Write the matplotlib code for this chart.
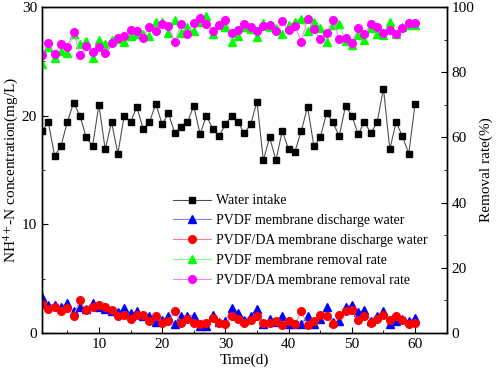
import matplotlib
matplotlib.use("Agg")
import matplotlib.pyplot as plt
from matplotlib.ticker import MultipleLocator

plt.rcParams['font.family'] = ['Liberation Serif', 'DejaVu Serif']
plt.rcParams['mathtext.fontset'] = 'stix'

days = list(range(1, 61))

water_intake = [18.6, 19.4, 16.3, 17.2, 19.4, 21.2, 20.0, 18.0, 17.2, 21.0,
                16.9, 19.4, 16.5, 20.0, 19.4, 20.8, 18.8, 19.4, 21.1, 19.2,
                20.2, 18.4, 19.0, 19.4, 20.9, 18.3, 20.0, 18.8, 18.1, 19.2,
                20.0, 19.4, 18.4, 19.2, 21.3, 15.9, 18.0, 15.9, 18.6, 16.9,
                16.7, 18.6, 20.8, 17.2, 18.0, 20.2, 19.4, 18.1, 20.9, 20.0,
                18.3, 19.4, 18.4, 19.4, 22.5, 16.9, 19.4, 18.1, 16.5, 21.1]

pvdf_out = [3.3, 2.6, 2.6, 2.4, 2.8, 2.0, 2.4, 2.2, 2.8, 2.4,
            2.2, 2.0, 1.9, 2.3, 1.8, 2.0, 1.6, 1.6, 1.0, 1.2,
            1.6, 0.8, 1.6, 1.6, 1.6, 0.6, 0.6, 1.7, 1.0, 1.1,
            2.3, 1.8, 1.2, 1.6, 2.2, 0.8, 1.3, 1.0, 1.6, 0.8,
            0.8, 0.8, 1.6, 0.8, 1.3, 2.4, 1.0, 1.1, 2.4, 2.6,
            1.9, 2.1, 1.1, 1.6, 2.0, 0.8, 1.1, 1.3, 1.1, 1.4]

pvdf_da_out = [2.7, 2.2, 2.4, 2.0, 2.3, 1.6, 3.0, 2.1, 2.4, 2.6,
               2.4, 2.1, 1.6, 1.7, 1.3, 1.7, 1.7, 1.1, 1.6, 0.9,
               1.1, 2.0, 0.9, 1.3, 0.9, 0.8, 0.9, 1.4, 0.9, 0.8,
               1.6, 1.3, 0.9, 1.2, 1.6, 0.9, 0.9, 1.1, 0.7, 1.1,
               0.8, 2.0, 0.7, 1.1, 1.7, 1.6, 0.8, 1.7, 2.0, 2.1,
               1.2, 1.6, 0.9, 1.3, 1.7, 1.2, 1.6, 1.2, 0.8, 0.9]

pvdf_rate = [82.5, 87.6, 84.5, 86.5, 86.0, 91.7, 88.6, 89.6, 84.5, 89.8,
             88.6, 89.8, 90.1, 89.4, 91.1, 91.7, 91.7, 91.1, 95.5, 95.5,
             92.1, 95.9, 92.1, 93.9, 92.7, 95.5, 97.2, 91.7, 94.5, 93.9,
             89.4, 91.1, 93.9, 93.2, 90.8, 95.2, 93.9, 93.6, 91.7, 94.5,
             95.5, 96.2, 92.5, 95.5, 93.6, 89.4, 94.5, 94.7, 89.6, 88.4,
             91.4, 89.8, 93.5, 91.8, 91.4, 95.5, 91.8, 93.9, 94.5, 94.5]

pvdf_da_rate = [85.3, 88.9, 85.7, 88.6, 87.8, 92.4, 85.3, 88.1, 86.3, 87.8,
                86.0, 88.9, 90.4, 91.1, 92.9, 92.5, 90.6, 93.9, 92.5, 94.9,
                94.2, 89.4, 94.7, 91.8, 95.2, 96.7, 94.9, 92.5, 94.5, 95.9,
                92.0, 92.9, 94.7, 93.9, 92.5, 94.2, 94.5, 92.5, 95.7, 92.9,
                94.2, 89.4, 96.2, 93.2, 90.1, 92.1, 95.9, 90.1, 90.6, 89.1,
                93.5, 91.8, 94.7, 93.9, 92.1, 92.9, 91.8, 93.5, 95.2, 95.2]

fig = plt.figure(figsize=(4.98, 3.79), dpi=100)
ax = fig.add_axes([0.0843, 0.1214, 0.8127, 0.8601])
ax2 = ax.twinx()

ms = 5.5
lw = 0.8
h1, = ax.plot(days, water_intake, color='#505050', lw=lw, marker='s', ms=ms-0.5,
              mfc='black', mec='black', label='Water intake')
h2, = ax.plot(days, pvdf_out, color='#8080ff', lw=lw, marker='^', ms=ms,
              mfc='#0000ff', mec='#0000ff', label='PVDF membrane discharge water')
h3, = ax.plot(days, pvdf_da_out, color='#ff8080', lw=lw, marker='o', ms=ms,
              mfc='#ff0000', mec='#ff0000', label='PVDF/DA membrane discharge water')
h4, = ax2.plot(days, pvdf_rate, color='#80ff80', lw=lw, marker='^', ms=ms,
               mfc='#00ff00', mec='#00ff00', label='PVDF membrane removal rate')
h5, = ax2.plot(days, pvdf_da_rate, color='#ff80ff', lw=lw, marker='o', ms=ms,
               mfc='#ff00ff', mec='#ff00ff', label='PVDF/DA membrane removal rate')

ax.set_xlim(1, 65)
ax.set_ylim(0, 30)
ax2.set_ylim(0, 100)

ax.xaxis.set_major_locator(MultipleLocator(10))
ax.xaxis.set_minor_locator(MultipleLocator(5))
ax.yaxis.set_major_locator(MultipleLocator(10))
ax.yaxis.set_minor_locator(MultipleLocator(5))
ax2.yaxis.set_major_locator(MultipleLocator(20))
ax2.yaxis.set_minor_locator(MultipleLocator(10))

for a in (ax, ax2):
    a.tick_params(which='both', direction='in', labelsize=11)
    a.tick_params(which='major', length=4)
    a.tick_params(which='minor', length=2.5)
    for s in a.spines.values():
        s.set_linewidth(1.0)
ax.tick_params(axis='y', right=False)

ax.set_xlabel('Time(d)', fontsize=11, labelpad=2)
ax.set_ylabel(r'NH$^{4+}$-N concentration(mg/L)', fontsize=11, labelpad=1)
ax2.set_ylabel('Removal rate(%)', fontsize=11, labelpad=4)

ax2.legend(handles=[h1, h2, h3, h4, h5], loc='upper left',
           bbox_to_anchor=(0.3, 0.455), frameon=False, fontsize=10,
           handlelength=2.7, handletextpad=0.4, labelspacing=0.5,
           borderpad=0.2)

fig.savefig('out.png', dpi=100)
